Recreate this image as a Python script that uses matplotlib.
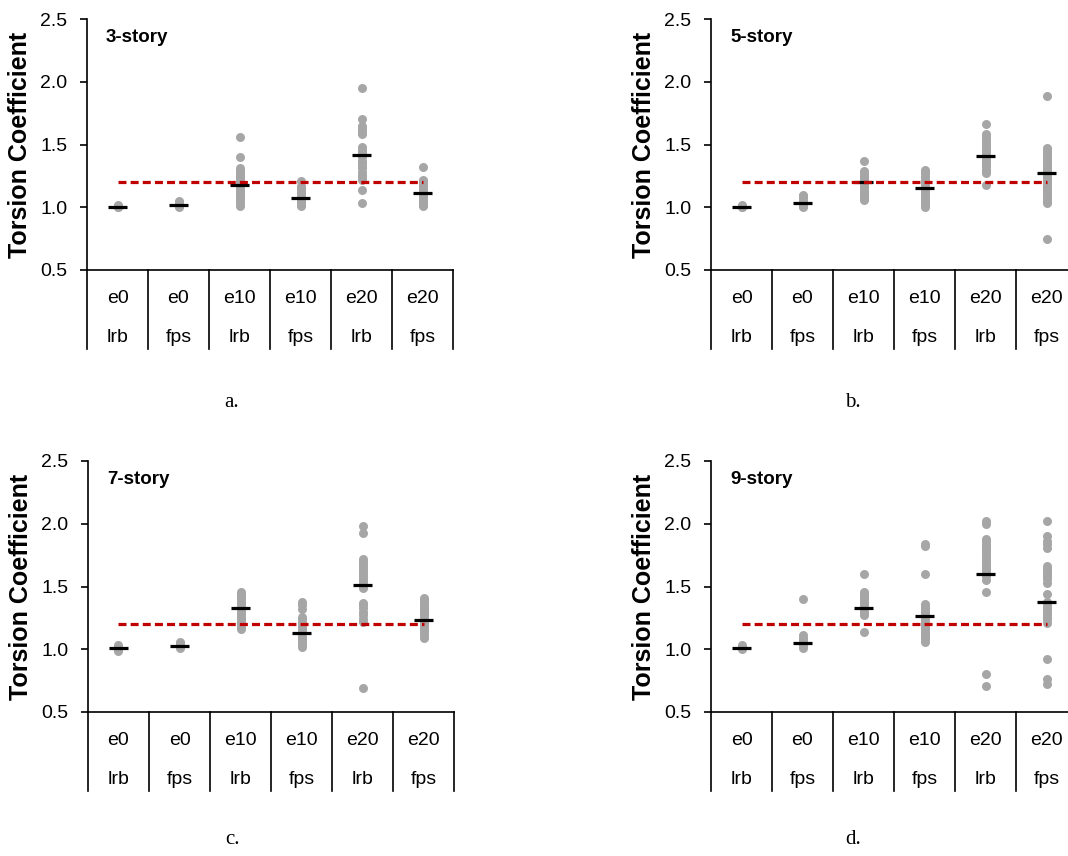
import matplotlib
matplotlib.use("Agg")
import matplotlib.pyplot as plt

plt.rcParams['font.family'] = ['Liberation Sans', 'DejaVu Sans']

# Categories (two-level axis)
cases = ['e0', 'e0', 'e10', 'e10', 'e20', 'e20']
systems = ['lrb', 'fps', 'lrb', 'fps', 'lrb', 'fps']
threshold = 1.2

# 3-story
pts_3 = [
    [1.00, 1.00, 1.01, 1.01, 1.02],
    [1.00, 1.01, 1.02, 1.03, 1.04, 1.05],
    [1.56, 1.40, 1.31, 1.29, 1.27, 1.25, 1.23, 1.21, 1.19, 1.17, 1.15, 1.13, 1.11, 1.09, 1.07, 1.05, 1.03, 1.01],
    [1.21, 1.17, 1.15, 1.13, 1.11, 1.09, 1.07, 1.05, 1.04, 1.03, 1.02, 1.01],
    [1.95, 1.70, 1.65, 1.62, 1.60, 1.58, 1.48, 1.46, 1.44, 1.42, 1.40, 1.37, 1.35, 1.33, 1.31, 1.28, 1.26, 1.24, 1.22, 1.14, 1.03],
    [1.32, 1.22, 1.20, 1.18, 1.16, 1.14, 1.12, 1.10, 1.08, 1.06, 1.04, 1.02, 1.01],
]
mean_3 = [1.005, 1.02, 1.18, 1.07, 1.415, 1.11]

# 5-story
pts_5 = [
    [1.00, 1.00, 1.01, 1.02],
    [1.00, 1.01, 1.02, 1.03, 1.05, 1.07, 1.09, 1.10],
    [1.37, 1.29, 1.27, 1.25, 1.23, 1.21, 1.19, 1.17, 1.15, 1.13, 1.11, 1.09, 1.07, 1.06],
    [1.30, 1.28, 1.26, 1.24, 1.22, 1.20, 1.18, 1.16, 1.14, 1.12, 1.10, 1.08, 1.06, 1.04, 1.02, 1.00],
    [1.66, 1.58, 1.56, 1.54, 1.52, 1.50, 1.48, 1.46, 1.44, 1.42, 1.40, 1.38, 1.36, 1.34, 1.32, 1.30, 1.28, 1.27, 1.18],
    [1.89, 1.47, 1.45, 1.43, 1.41, 1.39, 1.37, 1.35, 1.33, 1.31, 1.29, 1.27, 1.25, 1.23, 1.21, 1.19, 1.17,
     1.15, 1.13, 1.11, 1.09, 1.07, 1.05, 1.03, 0.75],
]
mean_5 = [1.00, 1.03, 1.20, 1.15, 1.41, 1.27]

# 7-story
pts_7 = [
    [0.99, 1.00, 1.01, 1.02, 1.03],
    [1.01, 1.02, 1.03, 1.04, 1.05, 1.06],
    [1.46, 1.44, 1.42, 1.40, 1.38, 1.36, 1.34, 1.32, 1.30, 1.28, 1.26, 1.24, 1.22, 1.20, 1.18, 1.16],
    [1.38, 1.35, 1.32, 1.26, 1.24, 1.22, 1.20, 1.18, 1.16, 1.14, 1.12, 1.10, 1.08, 1.06, 1.04, 1.02],
    [1.98, 1.93, 1.72, 1.70, 1.68, 1.66, 1.64, 1.62, 1.60, 1.58, 1.56, 1.54, 1.52, 1.50, 1.49, 1.37, 1.35,
     1.33, 1.30, 1.27, 1.24, 1.22, 0.69],
    [1.41, 1.39, 1.37, 1.35, 1.33, 1.31, 1.29, 1.27, 1.25, 1.23, 1.21, 1.19, 1.17, 1.15, 1.13, 1.11, 1.09],
]
mean_7 = [1.01, 1.025, 1.33, 1.13, 1.515, 1.235]

# 9-story
pts_9 = [
    [1.00, 1.01, 1.02, 1.03],
    [1.40, 1.11, 1.09, 1.07, 1.05, 1.03, 1.01],
    [1.60, 1.46, 1.44, 1.42, 1.40, 1.38, 1.36, 1.34, 1.32, 1.30, 1.28, 1.27, 1.14],
    [1.84, 1.82, 1.60, 1.36, 1.34, 1.32, 1.30, 1.28, 1.26, 1.24, 1.22, 1.20, 1.18, 1.16, 1.14, 1.12, 1.10,
     1.08, 1.06],
    [2.02, 2.00, 1.88, 1.86, 1.84, 1.82, 1.80, 1.78, 1.76, 1.74, 1.72, 1.70, 1.68, 1.66, 1.64, 1.62, 1.60,
     1.58, 1.55, 1.46, 0.80, 0.71],
    [2.02, 1.90, 1.86, 1.84, 1.81, 1.66, 1.64, 1.62, 1.60, 1.58, 1.56, 1.53, 1.44, 1.38, 1.36, 1.34, 1.32,
     1.30, 1.28, 1.26, 1.24, 1.21, 0.92, 0.76, 0.72],
]
mean_9 = [1.01, 1.05, 1.33, 1.265, 1.60, 1.38]

W, H = 1068, 856
fig = plt.figure(figsize=(W / 100, H / 100), dpi=100)


def panel(left_px, top_px, pts, means, title, sub, sub_xy):
    # axes box in pixel coords: 6 categories of 61 px, 0.5..2.5 over 251 px
    ax = fig.add_axes([left_px / W, 1 - (top_px + 251) / H, 366 / W, 251 / H])
    x = list(range(1, 7))
    for xi, vals in zip(x, pts):
        ax.scatter([xi] * len(vals), vals, s=42, color='#A6A6A6', linewidths=0, zorder=2)
    ax.hlines(means, [xi - 0.16 for xi in x], [xi + 0.16 for xi in x], color='black', lw=2.3, zorder=3)
    ax.plot([1, 6], [threshold, threshold], color='#C00000', lw=2.3, dashes=(2.5, 1.3), zorder=4)

    ax.set_xlim(0.5, 6.5)
    ax.set_ylim(0.5, 2.5)
    ax.set_yticks([0.5, 1.0, 1.5, 2.0, 2.5])
    ax.set_yticklabels(['%.1f' % v for v in [0.5, 1.0, 1.5, 2.0, 2.5]], fontsize=14)
    ax.tick_params(axis='y', length=5, width=1.2, pad=9, direction='out')
    ax.set_xticks([])
    for s in ['top', 'right']:
        ax.spines[s].set_visible(False)
    ax.spines['left'].set_linewidth(1.2)
    ax.spines['bottom'].set_linewidth(1.2)
    ax.set_ylabel('Torsion Coefficient', fontsize=18, fontweight='bold')
    ax.yaxis.set_label_coords(-55 / 366, 0.5)

    # category table under the axis
    tr = ax.get_xaxis_transform()
    for b in [0.5, 1.5, 2.5, 3.5, 4.5, 5.5, 6.5]:
        ax.plot([b, b], [0, -0.315], transform=tr, color='black', lw=1.2, clip_on=False)
    for xi, c, sy in zip(x, cases, systems):
        ax.text(xi, -0.112, c, transform=tr, ha='center', va='center', fontsize=14)
        ax.text(xi, -0.268, sy, transform=tr, ha='center', va='center', fontsize=14)

    ax.text(0.052, 0.928, title, transform=ax.transAxes, fontsize=13.5, fontweight='bold',
            ha='left', va='center')
    fig.text(sub_xy[0] / W, 1 - sub_xy[1] / H, sub, fontsize=15, family='Liberation Serif',
             ha='center', va='center')
    return ax


panel(87, 19, pts_3, mean_3, '3-story', 'a.', (232, 403))
panel(711, 19, pts_5, mean_5, '5-story', 'b.', (853, 403))
panel(88, 461, pts_7, mean_7, '7-story', 'c.', (232, 840))
panel(711, 461, pts_9, mean_9, '9-story', 'd.', (853, 840))

fig.savefig('out.png', dpi=100, facecolor='white')
